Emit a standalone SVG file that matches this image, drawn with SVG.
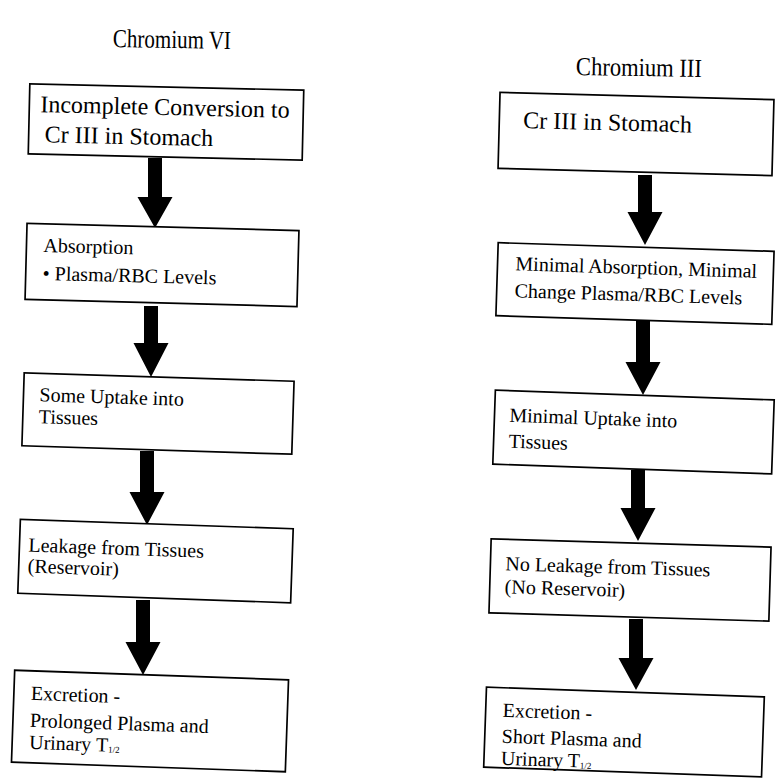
<svg xmlns="http://www.w3.org/2000/svg" width="776" height="778" viewBox="0 0 776 778">
<style>
  .bg { fill: #ffffff; }
  .box { fill: #ffffff; stroke: #000000; stroke-width: 1.7; }
  .t { font-family: "Liberation Serif", "Times New Roman", serif; fill: #000000; }
  .title { font-size: 26px; }
  .big { font-size: 24px; }
  .sm { font-size: 20px; }
  .sub { font-size: 9px; }
  .arrow { fill: #000000; stroke: none; }
</style>
<rect class="bg" x="0" y="0" width="776" height="778"/>

<g id="title-cr6" transform="rotate(1 172 40)">
  <text class="t title" x="113" y="48" textLength="118" lengthAdjust="spacingAndGlyphs">Chromium VI</text>
</g>
<g id="title-cr3" transform="rotate(1 638 66)">
  <text class="t title" x="576" y="76" textLength="126" lengthAdjust="spacingAndGlyphs">Chromium III</text>
</g>

<g id="connectors">
  <polygon class="arrow" points="148,158 162,158 162,197 172.5,197 155,228 137.5,197 148,197"/>
  <polygon class="arrow" points="144,306 158,306 158,343 168.5,343 151,377 133.5,343 144,343"/>
  <polygon class="arrow" points="140,451 154,451 154,492 164.5,492 147,525 129.5,492 140,492"/>
  <polygon class="arrow" points="136,600 150,600 150,642 160.5,642 143,675 125.5,642 136,642"/>
  <polygon class="arrow" points="638,175 652,175 652,212 662.5,212 645,245 627.5,212 638,212"/>
  <polygon class="arrow" points="636,321 650,321 650,362 660.5,362 643,395 625.5,362 636,362"/>
  <polygon class="arrow" points="631,470 645,470 645,508 655.5,508 638,541 620.5,508 631,508"/>
  <polygon class="arrow" points="629,619 643,619 643,658 653.5,658 636,690 618.5,658 629,658"/>
</g>

<g id="cr6-stomach" transform="rotate(1.3 166 122)">
  <rect class="box" x="29" y="87" width="274" height="70"/>
  <text class="t big" x="40" y="115">Incomplete Conversion to</text>
  <text class="t big" x="45" y="145">Cr III in Stomach</text>
</g>

<g id="cr6-absorption" transform="rotate(1.5 162 265)">
  <rect class="box" x="26" y="227" width="272" height="76"/>
  <text class="t sm" x="43" y="255">Absorption</text>
  <text class="t sm" x="43" y="283">• Plasma/RBC Levels</text>
</g>

<g id="cr6-uptake" transform="rotate(1.8 158 413)">
  <rect class="box" x="23" y="377" width="270" height="73"/>
  <text class="t sm" x="39" y="405">Some Uptake into</text>
  <text class="t sm" x="39" y="427">Tissues</text>
</g>

<g id="cr6-leakage" transform="rotate(2 155 561)">
  <rect class="box" x="19" y="524" width="273" height="74"/>
  <text class="t sm" x="28" y="556">Leakage from Tissues</text>
  <text class="t sm" x="28" y="577">(Reservoir)</text>
</g>

<g id="cr6-excretion" transform="rotate(2 150 721)">
  <rect class="box" x="13" y="675" width="274" height="92"/>
  <text class="t sm" x="30" y="704">Excretion -</text>
  <text class="t sm" x="30" y="731">Prolonged Plasma and</text>
  <text class="t sm" x="30" y="753">Urinary T<tspan class="sub" dy="1">1/2</tspan></text>
</g>

<g id="cr3-stomach" transform="rotate(1.5 636 134)">
  <rect class="box" x="499" y="96" width="274" height="76"/>
  <text class="t big" x="523" y="131">Cr III in Stomach</text>
</g>

<g id="cr3-absorption" transform="rotate(1.8 635 283)">
  <rect class="box" x="497" y="247" width="276" height="73"/>
  <text class="t sm" x="515" y="274">Minimal Absorption, Minimal</text>
  <text class="t sm" x="515" y="301">Change Plasma/RBC Levels</text>
</g>

<g id="cr3-uptake" transform="rotate(2 633 432)">
  <rect class="box" x="494" y="395" width="279" height="74"/>
  <text class="t sm" x="509" y="426">Minimal Uptake into</text>
  <text class="t sm" x="509" y="452">Tissues</text>
</g>

<g id="cr3-leakage" transform="rotate(1.7 630 580)">
  <rect class="box" x="490" y="543" width="280" height="74"/>
  <text class="t sm" x="505" y="574">No Leakage from Tissues</text>
  <text class="t sm" x="505" y="597">(No Reservoir)</text>
</g>

<g id="cr3-excretion" transform="rotate(2 624 732)">
  <rect class="box" x="485" y="692" width="278" height="80"/>
  <text class="t sm" x="502" y="721">Excretion -</text>
  <text class="t sm" x="502" y="747">Short Plasma and</text>
  <text class="t sm" x="502" y="769">Urinary T<tspan class="sub" dy="1">1/2</tspan></text>
</g>
</svg>
